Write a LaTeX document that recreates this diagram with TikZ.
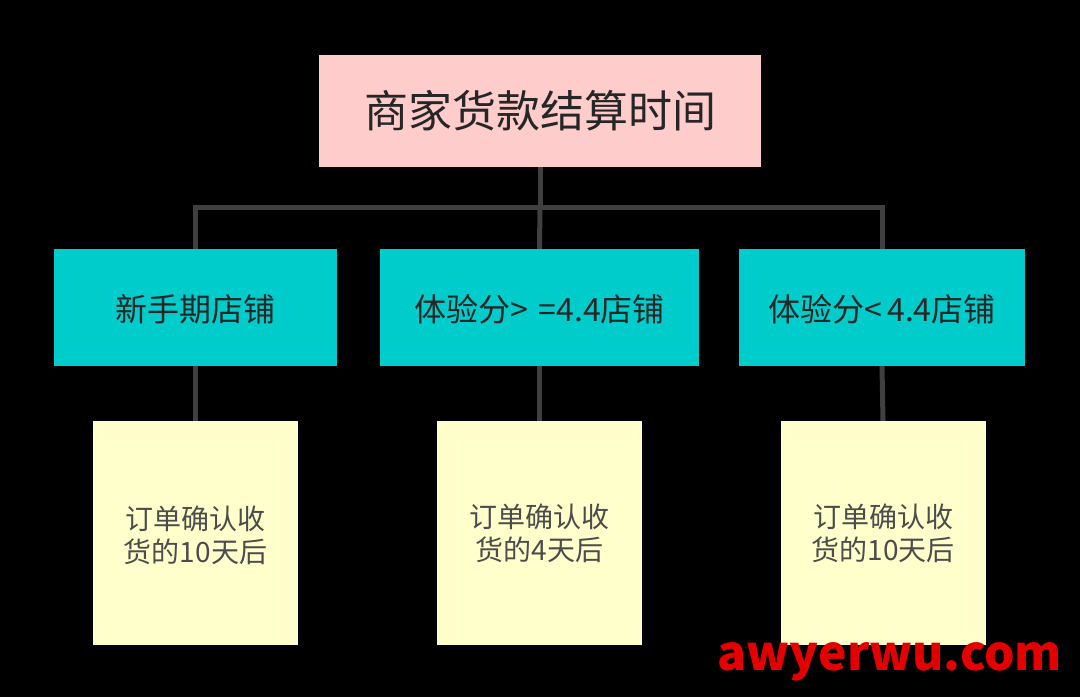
\documentclass[tikz,border=0pt]{standalone}
\usepackage{fontspec}
\setmainfont{Noto Sans CJK SC}
\begin{document}
\begin{tikzpicture}[x=1pt,y=-1pt,
  conn/.style={draw=black!75,line width=5pt},
  topbox/.style={draw=none,minimum width=442pt,minimum height=112pt,font=\fontsize{44}{48}\selectfont,text=black!85},
  midbox/.style={draw=none,minimum height=117pt,font=\fontsize{32}{36}\selectfont,text=black!85},
  botbox/.style={draw=none,minimum width=205pt,minimum height=224pt,font=\fontsize{28}{33}\selectfont,text=black!70,align=center}]
\fill[black] (0,0) rectangle (1080,697);
\useasboundingbox (0,0) rectangle (1080,697);
\definecolor{pinkb}{HTML}{FFCCCC}\definecolor{cyanb}{HTML}{00CCCC}\definecolor{yelb}{HTML}{FFFFCC}
\node[topbox,fill=pinkb] (top) at (540,111) {商家货款结算时间};
\node[midbox,fill=cyanb,minimum width=283pt,text depth=-8pt] (m1) at (195.5,307.5) {新手期店铺};
\node[midbox,fill=cyanb,minimum width=319pt,text depth=-8pt] (m2) at (539.5,307.5) {体验分>\,\,=4.4店铺};
\node[midbox,fill=cyanb,minimum width=286pt,text depth=-8pt] (m3) at (882,307.5) {体验分<\,4.4店铺};
\node[botbox,fill=yelb] (b1) at (195.5,533) {\\[-4pt]订单确认收\\货的10天后};
\node[botbox,fill=yelb] (b2) at (539.5,533) {订单确认收\\货的4天后};
\node[botbox,fill=yelb] (b3) at (883,533) {订单确认收\\货的10天后};
\coordinate (j) at (540,207);
\draw[conn] (top.south) -- (j);
\draw[conn] (m1.north) |- (j) -| (m3.north);
\draw[conn] (j) -- (m2.north);
\draw[conn] (m1.south) -- (b1.north);
\draw[conn] (m2.south) -- (b2.north);
\draw[conn] (m3.south) -- (b3.north);
\node[text=red!90!black,font=\fontsize{48}{52}\selectfont\bfseries,anchor=center] (wm) at (890,662) {awyerwu.com};
\end{tikzpicture}
\end{document}
